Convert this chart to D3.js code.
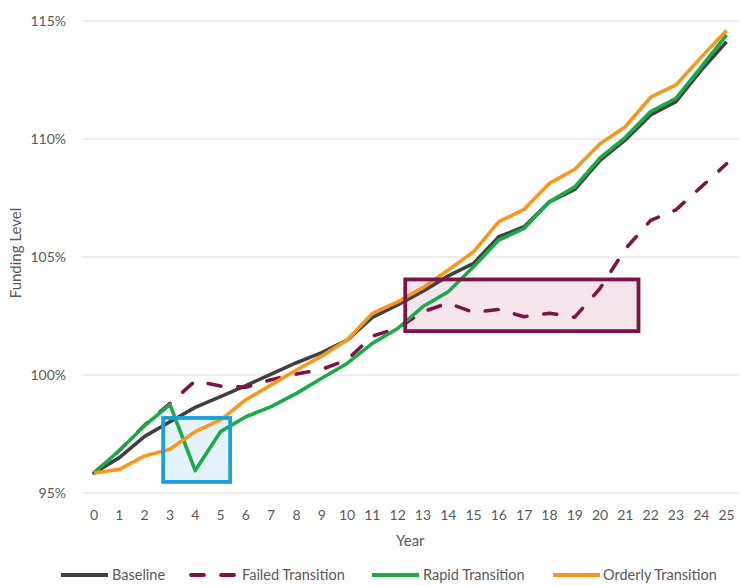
<!DOCTYPE html>
<html>
<head>
<meta charset="utf-8">
<script src="https://cdn.jsdelivr.net/npm/d3@7"></script>
<style>
  html, body { margin: 0; padding: 0; background: #fff; }
  svg { display: block; font-family: Lato, "Open Sans", sans-serif; }
</style>
</head>
<body>
<svg id="chart" width="741" height="585"></svg>
<script>
// Funding level projections by scenario, years 0-25
const years = d3.range(0, 26);
const yTicks = [95, 100, 105, 110, 115];

const baseline = [95.85, 96.5, 97.4, 98.02, 98.63, 99.08, 99.55, 100.04, 100.52, 100.95,
  101.48, 102.44, 102.97, 103.55, 104.2, 104.73, 105.86, 106.28, 107.34, 107.86,
  109.1, 109.96, 111.02, 111.58, 112.92, 114.12];
const failed = [95.85, 96.8, 97.88, 98.8, 99.75, 99.53, 99.48, 99.8, 100.04, 100.24,
  100.64, 101.65, 101.98, 102.68, 103.05, 102.65, 102.78, 102.47, 102.62, 102.45,
  103.67, 105.34, 106.55, 107.0, 107.97, 108.95];
const rapid = [95.85, 96.8, 97.85, 98.75, 95.95, 97.6, 98.23, 98.66, 99.22, 99.86,
  100.49, 101.34, 101.97, 102.9, 103.53, 104.59, 105.72, 106.21, 107.34, 107.97,
  109.2, 110.07, 111.16, 111.72, 113.06, 114.41];
const orderly = [95.85, 96.0, 96.57, 96.85, 97.6, 98.1, 98.95, 99.58, 100.21, 100.8,
  101.48, 102.61, 103.1, 103.7, 104.45, 105.22, 106.5, 107.02, 108.12, 108.72,
  109.8, 110.52, 111.77, 112.29, 113.47, 114.6];

const seriesNames = ["Baseline", "Failed Transition", "Rapid Transition", "Orderly Transition"];
const seriesValues = [baseline, failed, rapid, orderly];
const seriesColors = ["#404040", "#7C1448", "#1AAA48", "#F7981D"];
const seriesDashed = [false, true, false, false];

// Highlight boxes, in data units: [year from, year to, level low, level high]
const highlightBoxes = [
  { x: [2.73, 5.38], y: [95.47, 98.18], stroke: "#19A0DE", fill: "#E6F2FA" },
  { x: [12.3, 21.52], y: [101.86, 104.05], stroke: "#7C1448", fill: "#F3E5EB" }
];

const svg = d3.select("#chart");
const plotLeft = 81.4, plotRight = 739.2, plotTop = 21, plotBottom = 493;

const x = d3.scalePoint().domain(years).range([plotLeft, plotRight]).padding(0.5);
const xLin = d3.scaleLinear().domain([0, 25]).range([x(0), x(25)]);
const y = d3.scaleLinear().domain([95, 115]).range([plotBottom, plotTop]);

const boxRect = sel => sel
  .attr("x", d => xLin(d.x[0])).attr("width", d => xLin(d.x[1]) - xLin(d.x[0]))
  .attr("y", d => y(d.y[1])).attr("height", d => y(d.y[0]) - y(d.y[1]));

// gridlines
svg.append("g").selectAll("line").data(yTicks).join("line")
  .attr("x1", plotLeft).attr("x2", plotRight)
  .attr("y1", d => y(d)).attr("y2", d => y(d))
  .attr("stroke", "#DCDCDC").attr("stroke-width", 1);

// y tick labels
svg.append("g").selectAll("text").data(yTicks).join("text")
  .attr("x", 66).attr("y", d => y(d)).attr("dy", "0.35em")
  .attr("text-anchor", "end").attr("fill", "#595959").attr("font-size", 14)
  .text(d => d + "%");

// x tick labels
svg.append("g").selectAll("text").data(years).join("text")
  .attr("x", d => x(d)).attr("y", 520)
  .attr("text-anchor", "middle").attr("fill", "#595959").attr("font-size", 14)
  .text(d => d);

// axis titles
svg.append("text").attr("x", (plotLeft + plotRight) / 2).attr("y", 546)
  .attr("text-anchor", "middle").attr("fill", "#595959").attr("font-size", 15)
  .text("Year");
svg.append("text").attr("transform", `translate(21,253) rotate(-90)`)
  .attr("text-anchor", "middle").attr("fill", "#595959").attr("font-size", 15)
  .text("Funding Level");

// highlight box fills sit under the lines
svg.append("g").selectAll("rect").data(highlightBoxes).join("rect")
  .call(boxRect)
  .attr("fill", d => d.fill).attr("stroke", "none");

// series lines
const line = d3.line().x((d, i) => x(years[i])).y(d => y(d));
seriesValues.forEach((vals, k) => {
  svg.append("path").datum(vals)
    .attr("d", line)
    .attr("fill", "none")
    .attr("stroke", seriesColors[k])
    .attr("stroke-width", 3.6)
    .attr("stroke-linejoin", "round")
    .attr("stroke-linecap", seriesDashed[k] ? "round" : "butt")
    .attr("stroke-dasharray", seriesDashed[k] ? "13,17" : null);
});

// highlight box outlines on top
svg.append("g").selectAll("rect").data(highlightBoxes).join("rect")
  .call(boxRect)
  .attr("fill", "none")
  .attr("stroke", d => d.stroke).attr("stroke-width", 3.8);

// legend
const legendItems = [
  { lx: 61, tx: 112 },
  { lx: 189, tx: 242 },
  { lx: 372, tx: 423 },
  { lx: 553, tx: 603 }
];
const lg = svg.append("g");
legendItems.forEach((it, k) => {
  const ly = 575;
  if (seriesDashed[k]) {
    lg.append("line").attr("x1", it.lx + 2).attr("x2", it.lx + 48).attr("y1", ly).attr("y2", ly)
      .attr("stroke", seriesColors[k]).attr("stroke-width", 3.8)
      .attr("stroke-linecap", "round").attr("stroke-dasharray", "13,17");
  } else {
    lg.append("line").attr("x1", it.lx).attr("x2", it.lx + 47).attr("y1", ly).attr("y2", ly)
      .attr("stroke", seriesColors[k]).attr("stroke-width", 3.8);
  }
  lg.append("text").attr("x", it.tx).attr("y", ly).attr("dy", "0.35em")
    .attr("fill", "#595959").attr("font-size", 14.5).text(seriesNames[k]);
});
</script>
</body>
</html>
